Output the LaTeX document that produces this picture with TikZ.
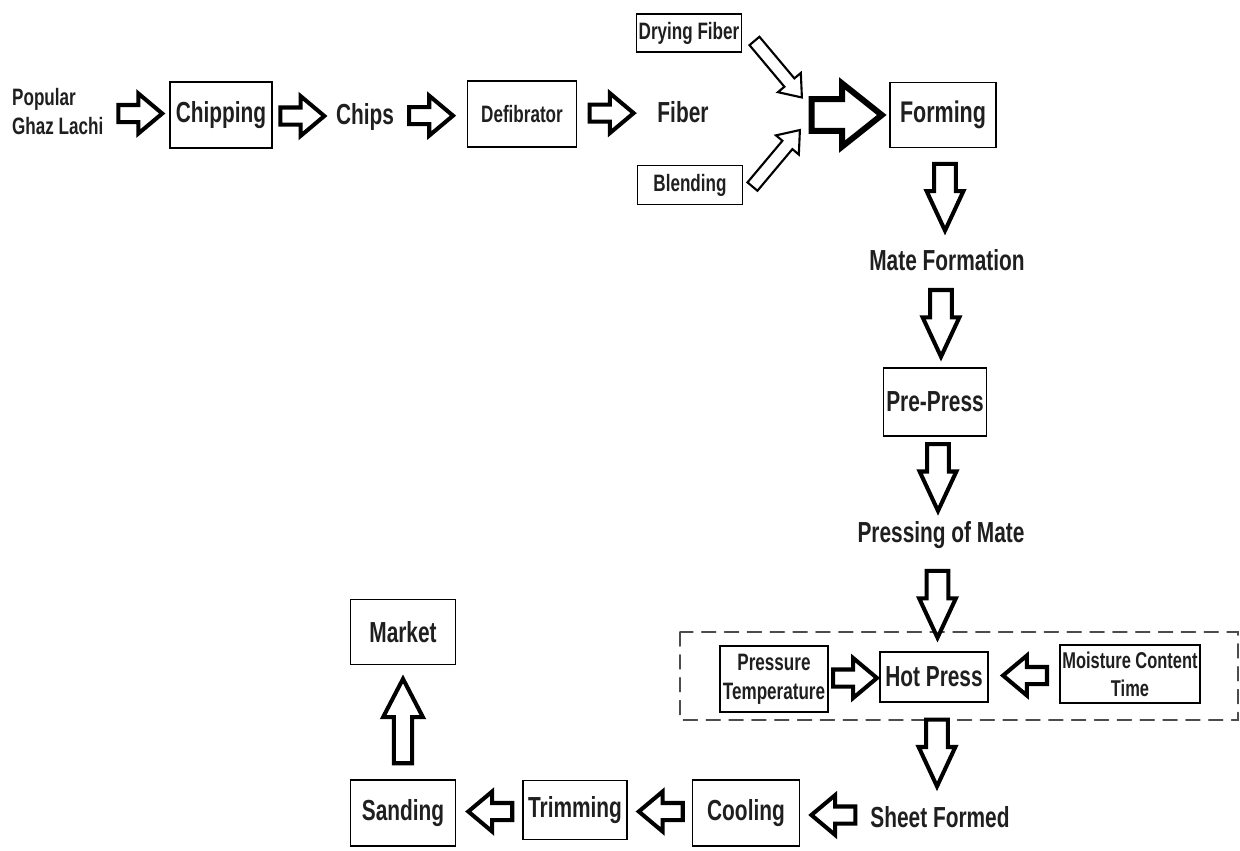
\documentclass[tikz,border=0pt]{standalone}
\usepackage{fontspec}
\setmainfont{Liberation Sans}[FakeStretch=0.72]
\usetikzlibrary{shapes.arrows,calc}

\begin{document}
\begin{tikzpicture}[x=0.02cm,y=-0.02cm,line cap=round,
  every node/.style={text=black!88},
  box/.style={draw,line width=1.1pt,inner sep=1pt,align=center},
  bigtxt/.style={font=\fontsize{16.5}{19}\selectfont\bfseries},
  smalltxt/.style={font=\fontsize{13.5}{16.5}\selectfont\bfseries},
  harrow/.style={single arrow,draw,fill=white,line width=2.3pt,minimum height=25pt,anchor=tail,
    inner sep=3.7pt,single arrow head extend=6.5pt,single arrow tip angle=80},
  varrow/.style={single arrow,draw,fill=white,line width=2.3pt,minimum height=38pt,anchor=tail,
    inner sep=5pt,single arrow head extend=4.3pt,single arrow tip angle=50,rotate=-90},
  uparrow/.style={single arrow,draw,fill=white,line width=2.3pt,minimum height=48pt,anchor=tail,
    inner sep=4pt,single arrow head extend=6.2pt,single arrow tip angle=55,rotate=90},
  bigarrow/.style={single arrow,draw,fill=white,line width=3.4pt,minimum height=40pt,anchor=tail,
    inner sep=7.3pt,single arrow head extend=9pt,single arrow tip angle=77},
  diagarrow/.style={single arrow,draw,fill=white,line width=1.2pt,minimum height=42pt,
    inner sep=3.1pt,single arrow head extend=4.8pt,single arrow tip angle=75}]

  \useasboundingbox (0,0) rectangle (1240,850);

  % top row
  \node[smalltxt,anchor=west,align=left] (pop) at (6,112) {Popular\\Ghaz Lachi};
  \node[box,bigtxt,minimum width=2.04cm,minimum height=1.32cm] (chip) at (221,115) {Chipping};
  \node[bigtxt] (chips) at (365,117) {Chips};
  \node[box,smalltxt,minimum width=2.18cm,minimum height=1.32cm] (defib) at (522,114) {Defibrator};
  \node[bigtxt] (fiber) at (683,112) {Fiber};
  \node[box,smalltxt,minimum width=2.1cm,minimum height=0.76cm] (dry) at (689,33) {Drying Fiber};
  \node[box,smalltxt,minimum width=2.1cm,minimum height=0.78cm] (blend) at (690,185) {Blending};
  \node[box,bigtxt,font=\fontsize{17}{19}\selectfont\bfseries,minimum width=2.12cm,minimum height=1.3cm] (form) at (943,115) {Forming};
  \coordinate (merge) at (806,115);

  \node[harrow] (a1) at ($(pop.east)!0.5!(chip.west)+(-23,0)$) {};
  \node[harrow] (a2) at ($(chip.east)!0.5!(chips.west)+(-23,0)$) {};
  \node[harrow] (a3) at ($(chips.east)!0.45!(defib.west)+(-23,0)$) {};
  \node[harrow] (a4) at ($(defib.east)!0.45!(fiber.west)+(-23,0)$) {};
  \node[diagarrow,rotate=-50] (a5) at ($(dry.south east)+(33,13)$) {};
  \node[diagarrow,rotate=50] (a6) at ($(blend.north east)+(30,-3)$) {};
  \node[bigarrow] (a7) at ($(merge)!0.5!(form.west)+(-39,0)$) {};

  % down the right side
  \node[bigtxt] (mate) at (947,260) {Mate Formation};
  \node[box,bigtxt,minimum width=2.06cm,minimum height=1.36cm] (pre) at (935,402) {Pre-Press};
  \node[bigtxt] (pressing) at (941,535) {Pressing of Mate};

  \node[varrow] (d1) at ($(form.south)!0.5!(mate.north)+(0,-34)$) {};
  \node[varrow] (d2) at ($(mate.south)!0.5!(pre.north)+(0,-34)$) {};
  \node[varrow] (d3) at ($(pre.south)!0.5!(pressing.north)+(0,-34)$) {};

  % hot press group
  \draw[black!70,line width=0.8pt,dash pattern=on 8pt off 5pt] (680,632) rectangle (1238,720);
  \node[box,smalltxt,minimum width=2.16cm,minimum height=1.32cm] (ptemp) at (774,679) {Pressure\\Temperature};
  \node[box,bigtxt,minimum width=2.16cm,minimum height=1cm] (hot) at (934,677) {Hot Press};
  \node[box,smalltxt,font=\fontsize{13}{16}\selectfont\bfseries,minimum width=2.8cm,minimum height=1.16cm] (moist) at (1130,674) {Moisture Content\\Time};

  \node[varrow] (d4) at ($(pressing.south)!0.5!(hot.north)+(0,-34)$) {};
  \node[harrow] (h1) at ($(ptemp.east)!0.5!(hot.west)+(-23,0)$) {};
  \node[harrow,rotate=180] (h2) at ($(moist.west)!0.5!(hot.east)+(25,0)$) {};

  % bottom row
  \node[bigtxt] (sheet) at (940,817) {Sheet Formed};
  \node[box,bigtxt,minimum width=2.14cm,minimum height=1.32cm] (cool) at (746,813) {Cooling};
  \node[box,bigtxt,minimum width=2.08cm,minimum height=1.18cm] (trim) at (575,810) {Trimming};
  \node[box,bigtxt,minimum width=2.1cm,minimum height=1.32cm] (sand) at (403,813) {Sanding};
  \node[box,bigtxt,minimum width=2.1cm,minimum height=1.3cm] (market) at (403,632) {Market};

  \node[varrow] (d5) at ($(hot.south)!0.5!(sheet.north)+(0,-34)$) {};
  \node[harrow,rotate=180] (b1) at ($(sheet.west)!0.5!(cool.east)+(25,0)$) {};
  \node[harrow,rotate=180] (b2) at ($(cool.west)!0.5!(trim.east)+(25,0)$) {};
  \node[harrow,rotate=180] (b3) at ($(trim.west)!0.5!(sand.east)+(25,0)$) {};
  \node[uparrow] (u1) at ($(sand.north)!0.5!(market.south)+(0,43)$) {};

\end{tikzpicture}
\end{document}
